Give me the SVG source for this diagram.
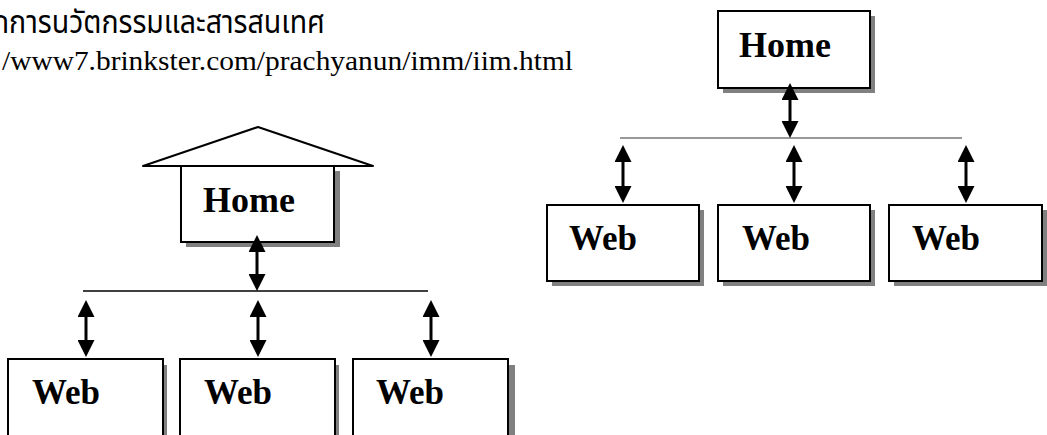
<svg xmlns="http://www.w3.org/2000/svg" width="1047" height="435" viewBox="0 0 1047 435">
<style>
.box{fill:#fff;stroke:#000;stroke-width:2}
.shadow{fill:#808080}
.lbl{font-family:"Liberation Serif","Times New Roman",serif;font-weight:bold;font-size:36px;fill:#000}
.web{font-size:35px}
.arr{stroke:#000;stroke-width:3;fill:none;marker-start:url(#ah);marker-end:url(#ah)}
.bus{stroke:#000;stroke-width:1.3}
.bus2{stroke:#777;stroke-width:1.3}
.thai{font-family:"Noto Sans Thai","Noto Sans","DejaVu Sans",sans-serif;font-size:32px;fill:#000}
.url{font-family:"Liberation Serif","Times New Roman",serif;font-size:27px;fill:#000}
</style>
<defs>
<marker id="ah" markerUnits="userSpaceOnUse" markerWidth="17" markerHeight="17" refX="7" refY="8.5" orient="auto-start-reverse" viewBox="0 0 17 17">
<path d="M0,0 L17,8.5 L0,17 Z" fill="#000"/>
</marker>
</defs>
<rect width="1047" height="435" fill="#fff"/>
<g id="title">
<text class="thai" x="-8" y="33" textLength="333" lengthAdjust="spacingAndGlyphs">กการนวัตกรรมและสารสนเทศ</text>
<text class="url" x="2" y="70" textLength="571" lengthAdjust="spacingAndGlyphs">/www7.brinkster.com/prachyanun/imm/iim.html</text>
</g>
<g id="home-left">
<polygon points="143,166 258,127 373,166" fill="#fff" stroke="#000" stroke-width="2" stroke-linejoin="round"/>
<rect class="shadow" x="186" y="171" width="154" height="76"/>
<rect class="box" x="181" y="166" width="153" height="76"/>
<text class="lbl" x="203" y="212">Home</text>
</g>
<g id="web-left-1">
<rect class="shadow" x="13" y="365" width="154" height="80"/>
<rect class="box" x="8" y="359" width="155" height="90"/>
<text class="lbl web" x="32" y="404">Web</text>
</g>
<g id="web-left-2">
<rect class="shadow" x="185" y="365" width="154" height="80"/>
<rect class="box" x="180" y="359" width="155" height="90"/>
<text class="lbl web" x="204" y="404">Web</text>
</g>
<g id="web-left-3">
<rect class="shadow" x="358" y="365" width="157" height="80"/>
<rect class="box" x="353" y="359" width="155" height="90"/>
<text class="lbl web" x="376" y="404">Web</text>
</g>
<g id="home-right">
<rect class="shadow" x="723" y="16" width="152" height="77"/>
<rect class="box" x="718" y="11" width="152" height="77"/>
<text class="lbl" x="739" y="57">Home</text>
</g>
<g id="web-right-1">
<rect class="shadow" x="552" y="210" width="152" height="76"/>
<rect class="box" x="547" y="205" width="152" height="76"/>
<text class="lbl web" x="569" y="250">Web</text>
</g>
<g id="web-right-2">
<rect class="shadow" x="723" y="210" width="152" height="76"/>
<rect class="box" x="718" y="205" width="152" height="76"/>
<text class="lbl web" x="742" y="250">Web</text>
</g>
<g id="web-right-3">
<rect class="shadow" x="894" y="210" width="153" height="76"/>
<rect class="box" x="889" y="205" width="153" height="76"/>
<text class="lbl web" x="912" y="250">Web</text>
</g>
<g id="connectors">
<line class="bus" x1="83" y1="291" x2="428" y2="291"/>
<line class="arr" x1="257" y1="245" x2="257" y2="281"/>
<line class="arr" x1="86" y1="310" x2="86" y2="347"/>
<line class="arr" x1="258" y1="310" x2="258" y2="347"/>
<line class="arr" x1="431" y1="310" x2="431" y2="347"/>
<line class="bus2" x1="620" y1="138" x2="962" y2="138"/>
<line class="arr" x1="790" y1="93" x2="790" y2="128"/>
<line class="arr" x1="623" y1="155" x2="623" y2="193"/>
<line class="arr" x1="794" y1="155" x2="794" y2="193"/>
<line class="arr" x1="966" y1="155" x2="966" y2="193"/>
</g>
</svg>
